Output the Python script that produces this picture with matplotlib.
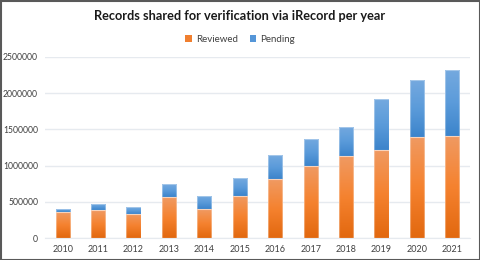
import matplotlib
matplotlib.use("Agg")
import matplotlib.pyplot as plt
import numpy as np
from matplotlib.colors import LinearSegmentedColormap
from matplotlib.patches import Rectangle

years = ["2010", "2011", "2012", "2013", "2014", "2015", "2016", "2017", "2018", "2019", "2020", "2021"]
reviewed = [356000, 383000, 332000, 565000, 395000, 584000, 814000, 990000, 1132000, 1219000, 1399000, 1413000]
pending = [51000, 84000, 93000, 176000, 180000, 244000, 329000, 384000, 408000, 698000, 785000, 905000]

plt.rcParams['font.family'] = ['Lato', 'DejaVu Sans']

fig = plt.figure(figsize=(4.8, 2.6), dpi=100)
ax = fig.add_axes([45/480, 1 - 238/260, 425/480, 181/260])

x = np.arange(len(years))
w = 0.4
orange_cmap = LinearSegmentedColormap.from_list("o", ["#E2680F", "#F5822F", "#F09A62"])
blue_cmap = LinearSegmentedColormap.from_list("b", ["#3C84CB", "#5B9BDA", "#74A9DF"])

b1 = ax.bar(x, reviewed, w, color="#F07F2F", label="Reviewed", zorder=2)
b2 = ax.bar(x, pending, w, bottom=reviewed, color="#5596D8", label="Pending", zorder=2)

grad = np.linspace(0, 1, 100).reshape(-1, 1)
for bars, cmap in ((b1, orange_cmap), (b2, blue_cmap)):
    for p in bars:
        x0, y0 = p.get_x(), p.get_y()
        im = ax.imshow(grad, cmap=cmap, aspect='auto', origin='lower',
                       extent=[x0, x0 + p.get_width(), y0, y0 + p.get_height()], zorder=2.5)
        im.set_clip_path(p)
        edge = Rectangle((x0, y0), p.get_width(), p.get_height(), fill=False,
                         edgecolor=(1, 1, 1, 0.35), linewidth=0.8, zorder=3)
        ax.add_patch(edge)

ax.set_xlim(-0.5, len(years) - 0.5)
ax.set_ylim(0, 2500000)
ax.set_yticks(np.arange(0, 2500001, 500000))
ax.set_yticklabels([str(v) for v in range(0, 2500001, 500000)])
ax.set_xticks(x)
ax.set_xticklabels(years)
ax.tick_params(axis='both', length=0, labelsize=6.5, colors="#404040")
ax.tick_params(axis='y', pad=5, labelsize=6.2)
ax.tick_params(axis='x', pad=5)
ax.grid(axis='y', color="#E6EAEF", linewidth=1, zorder=0)
for s in ["top", "right", "left"]:
    ax.spines[s].set_visible(False)
ax.spines["bottom"].set_color("#E6EAEF")
ax.set_axisbelow(True)

fig.text(0.5, 1 - 16/260, "Records shared for verification via iRecord per year",
         ha='center', va='center', fontsize=9.2, fontweight='bold', color="#1a1a1a")
leg = fig.legend(handles=[b1, b2], labels=["Reviewed", "Pending"], loc='center',
                 bbox_to_anchor=(0.5, 1 - 39/260), ncol=2, frameon=False, fontsize=7,
                 handlelength=0.7, handleheight=0.7, handletextpad=0.4, columnspacing=1.2)
for t in leg.get_texts():
    t.set_color("#404040")

fig.patches.append(Rectangle((0.5/480, 0.5/260), 479/480, 259/260, transform=fig.transFigure,
                             fill=False, edgecolor="#595959", linewidth=1.5))

fig.savefig("out.png", dpi=100)
